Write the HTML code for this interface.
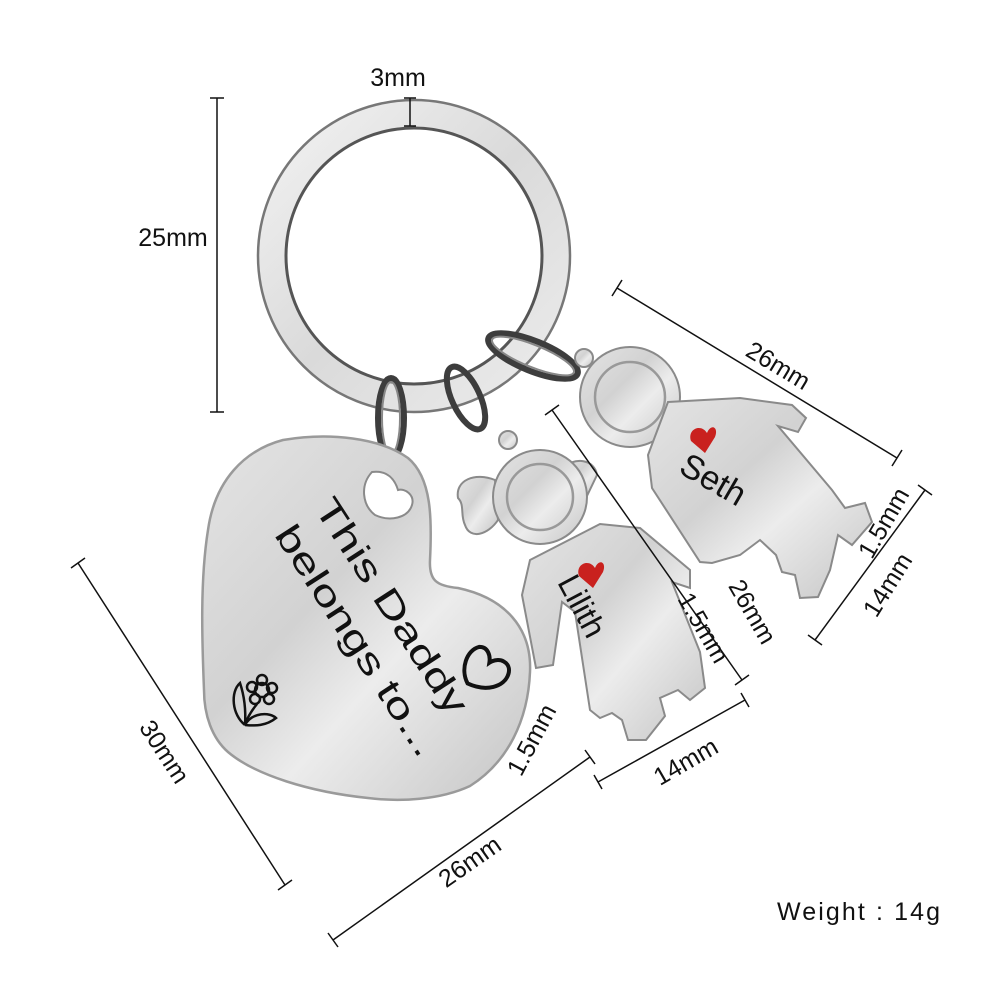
<!DOCTYPE html>
<html><head><meta charset="utf-8"><style>
html,body{margin:0;padding:0;background:#fff;width:1000px;height:1000px;overflow:hidden}
svg text{font-family:"Liberation Sans",sans-serif;fill:#111}
</style></head><body>
<svg width="1000" height="1000" viewBox="0 0 1000 1000" xmlns="http://www.w3.org/2000/svg">
<defs>
<linearGradient id="sv" x1="0" y1="0" x2="1" y2="1">
<stop offset="0" stop-color="#e4e4e4"/><stop offset="0.4" stop-color="#d2d2d2"/><stop offset="0.6" stop-color="#ececec"/><stop offset="1" stop-color="#c4c4c4"/></linearGradient>
<linearGradient id="rg" x1="0" y1="0" x2="1" y2="1">
<stop offset="0" stop-color="#f2f2f2"/><stop offset="0.5" stop-color="#dadada"/><stop offset="1" stop-color="#ececec"/></linearGradient>
</defs>
<circle cx="414" cy="256" r="142" fill="none" stroke="url(#rg)" stroke-width="28"/>
<circle cx="414" cy="256" r="156" fill="none" stroke="#777" stroke-width="2.5"/>
<circle cx="414" cy="256" r="128" fill="none" stroke="#555" stroke-width="3"/>
<g fill="none" stroke="#3d3d3d" stroke-width="6">
<ellipse cx="391" cy="418" rx="13" ry="40"/>
<ellipse cx="466" cy="398" rx="14" ry="34" transform="rotate(-25 466 398)"/>
<ellipse cx="533" cy="356" rx="48" ry="15" transform="rotate(22 533 356)"/>
</g>
<g fill="none" stroke="#888" stroke-width="2">
<ellipse cx="391" cy="418" rx="9" ry="36"/>
<ellipse cx="533" cy="356" rx="44" ry="11" transform="rotate(22 533 356)"/>
</g>
<path d="M283,440 C330,432 380,438 408,458 C432,478 432,520 430,560 C429,580 436,586 458,588 C505,598 532,628 530,672 C528,720 508,762 470,786 C440,800 400,802 368,798 C310,792 255,775 228,752 C212,738 204,715 204,690 C202,640 200,580 208,530 C215,480 245,450 283,440 Z" fill="url(#sv)" stroke="#9a9a9a" stroke-width="2.5"/>
<path d="M372,472 C360,485 362,505 375,515 C390,522 408,518 412,505 C415,495 405,488 398,490 C395,480 388,470 372,472 Z" fill="#fff" stroke="#8a8a8a" stroke-width="2"/>
<g transform="translate(373,618) rotate(57)">
<text x="0" y="-10" font-size="36" text-anchor="middle" textLength="250" lengthAdjust="spacingAndGlyphs">This Daddy</text>
<text x="10" y="38" font-size="36" text-anchor="middle" textLength="268" lengthAdjust="spacingAndGlyphs">belongs to...</text>
</g>
<path d="M475,690 C462,680 460,660 470,652 C478,648 484,655 486,662 C492,652 506,652 508,664 C510,678 495,690 475,690 Z" fill="none" stroke="#111" stroke-width="4" transform="rotate(25 486 670)"/>
<g fill="none" stroke="#111" stroke-width="2.5">
<circle cx="262" cy="690" r="7"/>
<circle cx="262" cy="680" r="5"/><circle cx="272" cy="688" r="5"/><circle cx="269" cy="699" r="5"/><circle cx="255" cy="699" r="5"/><circle cx="252" cy="687" r="5"/>
<path d="M257,704 Q248,715 245,725"/>
<path d="M245,725 C232,715 230,692 240,683 C244,695 246,710 245,725"/>
<path d="M245,725 C252,712 270,712 276,718 C266,726 255,726 245,725"/>
</g>
<g fill="url(#sv)" stroke="#8a8a8a" stroke-width="2">
<circle cx="508" cy="440" r="9"/>
<path d="M458,498 C455,480 475,472 495,480 L498,520 C488,535 470,540 465,525 C460,515 465,505 458,498 Z"/>
<path d="M560,470 C575,455 595,460 597,475 L585,500 Z"/>
<circle cx="540" cy="497" r="47"/>
<path d="M530,560 L600,524 L640,528 L690,570 L690,588 L672,582 L700,652 L705,688 L690,700 L678,690 L660,698 L665,716 L646,740 L628,740 L622,720 L612,713 L600,718 L590,710 L575,612 L562,602 L553,665 L536,668 L522,595 Z"/>
<circle cx="584" cy="358" r="9"/>
<circle cx="630" cy="397" r="50"/>
<path d="M668,402 L740,398 L792,405 L806,418 L798,432 L778,426 L832,490 L845,508 L865,503 L872,522 L852,545 L838,535 L830,570 L818,597 L800,598 L795,575 L782,572 L776,555 L760,540 L740,555 L712,563 L700,562 L652,488 L648,455 Z"/>
</g>
<g fill="none" stroke="#999" stroke-width="2.5">
<circle cx="540" cy="497" r="33"/>
<circle cx="630" cy="397" r="35"/>
</g>
<path d="M707,433 c-6,-10 -20,-4 -16,8 l14,12 l10,-16 c4,-10 -4,-14 -8,-4z" fill="#c9211e"/>
<path d="M595,568 c-6,-10 -20,-4 -16,8 l14,12 l10,-16 c4,-10 -4,-14 -8,-4z" fill="#c9211e"/>
<text font-size="34" text-anchor="middle" dominant-baseline="central" transform="translate(713,480) rotate(30)">Seth</text>
<text font-size="32" text-anchor="middle" dominant-baseline="central" transform="translate(582,606) rotate(62)">Lilith</text>
<g stroke="#111" stroke-width="1.5" fill="none">
<line x1="217" y1="98" x2="217" y2="412"/><line x1="210" y1="98" x2="224" y2="98"/><line x1="210" y1="412" x2="224" y2="412"/>
<line x1="410" y1="98" x2="410" y2="126"/><line x1="404" y1="98" x2="416" y2="98"/><line x1="404" y1="126" x2="416" y2="126"/>
<line x1="617" y1="288" x2="897" y2="458"/><line x1="612" y1="296" x2="622" y2="280"/><line x1="892" y1="466" x2="902" y2="450"/>
<line x1="925" y1="490" x2="815" y2="640"/><line x1="918" y1="485" x2="932" y2="495"/><line x1="808" y1="635" x2="822" y2="645"/>
<line x1="552" y1="410" x2="742" y2="680"/><line x1="545" y1="415" x2="559" y2="405"/><line x1="735" y1="685" x2="749" y2="675"/>
<line x1="598" y1="782" x2="745" y2="700"/><line x1="594" y1="775" x2="602" y2="789"/><line x1="741" y1="693" x2="749" y2="707"/>
<line x1="333" y1="940" x2="590" y2="757"/><line x1="328" y1="933" x2="338" y2="947"/><line x1="585" y1="750" x2="595" y2="764"/>
<line x1="78" y1="563" x2="285" y2="885"/><line x1="71" y1="568" x2="85" y2="558"/><line x1="278" y1="890" x2="292" y2="880"/>
</g>
<g font-size="25" text-anchor="middle" dominant-baseline="central">
<text x="173" y="238">25mm</text>
<text x="398" y="78">3mm</text>
<text transform="translate(778,366) rotate(31)">26mm</text>
<text transform="translate(884,523) rotate(-60)">1.5mm</text>
<text transform="translate(888,585) rotate(-58)">14mm</text>
<text transform="translate(752,612) rotate(60)">26mm</text>
<text transform="translate(703,628) rotate(60)">1.5mm</text>
<text transform="translate(686,762) rotate(-30)">14mm</text>
<text transform="translate(532,740) rotate(-62)">1.5mm</text>
<text transform="translate(470,862) rotate(-35)">26mm</text>
<text transform="translate(164,752) rotate(57)">30mm</text>
</g>
<text x="777" y="920" font-size="25" textLength="163" lengthAdjust="spacing">Weight  : 14g</text>
</svg>
</body></html>
